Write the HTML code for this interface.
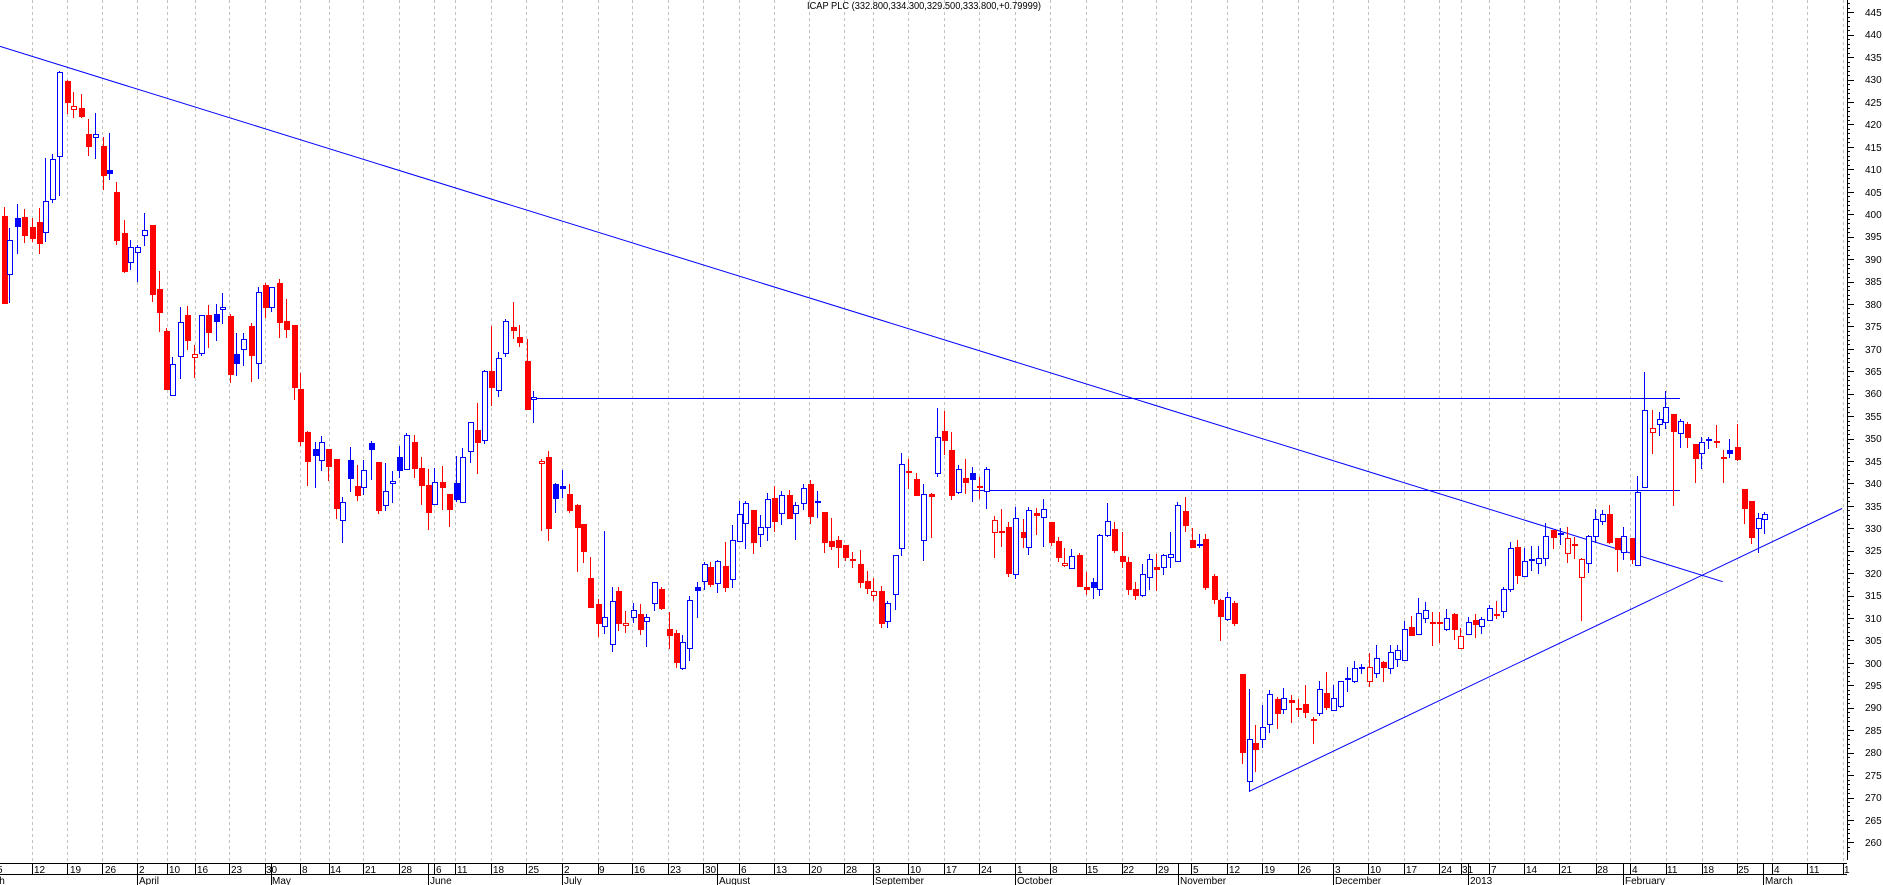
<!DOCTYPE html>
<html><head><meta charset="utf-8">
<style>
html,body{margin:0;padding:0;background:#fff;}
svg{display:block;}
text{font-family:"Liberation Sans",sans-serif;font-size:10px;fill:#000;}
</style></head>
<body>
<svg id="s" width="1883" height="885" viewBox="0 0 1883 885" xmlns="http://www.w3.org/2000/svg" shape-rendering="crispEdges">
<rect x="0" y="0" width="1883" height="885" fill="#fff"/>
<g id="grid"></g>
<text x="807" y="9" textLength="234" lengthAdjust="spacingAndGlyphs">ICAP PLC (332.800,334.300,329.500,333.800,+0.79999)</text>
<g id="lines" stroke="#0000ff" stroke-width="1" fill="none" shape-rendering="auto">
<line x1="0" y1="46.4" x2="1722.7" y2="581.7"/>
<line x1="1249.3" y1="791.3" x2="1842" y2="508.5"/>
<line x1="530" y1="398.5" x2="1680" y2="398.5"/>
<line x1="972.7" y1="490.5" x2="1680" y2="490.5"/>
</g>
<g id="candles"></g>
<g id="axis"></g>
<g id="plabels">
<text x="1865" y="16">445</text><text x="1865" y="38">440</text><text x="1865" y="61">435</text><text x="1865" y="83">430</text><text x="1865" y="106">425</text><text x="1865" y="128">420</text><text x="1865" y="151">415</text><text x="1865" y="173">410</text><text x="1865" y="196">405</text><text x="1865" y="218">400</text><text x="1865" y="240">395</text><text x="1865" y="263">390</text><text x="1865" y="285">385</text><text x="1865" y="308">380</text><text x="1865" y="330">375</text><text x="1865" y="353">370</text><text x="1865" y="375">365</text><text x="1865" y="397">360</text><text x="1865" y="420">355</text><text x="1865" y="442">350</text><text x="1865" y="465">345</text><text x="1865" y="487">340</text><text x="1865" y="510">335</text><text x="1865" y="532">330</text><text x="1865" y="554">325</text><text x="1865" y="577">320</text><text x="1865" y="599">315</text><text x="1865" y="622">310</text><text x="1865" y="644">305</text><text x="1865" y="667">300</text><text x="1865" y="689">295</text><text x="1865" y="711">290</text><text x="1865" y="734">285</text><text x="1865" y="756">280</text><text x="1865" y="779">275</text><text x="1865" y="801">270</text><text x="1865" y="824">265</text><text x="1865" y="846">260</text>
</g>
<g id="dlabels">
<text x="-3" y="873">5</text>
<text x="34" y="873">12</text><text x="70" y="873">19</text><text x="105" y="873">26</text><text x="139" y="873">2</text><text x="169" y="873">10</text><text x="197" y="873">16</text><text x="231" y="873">23</text><text x="266" y="873">30</text><text x="302" y="873">8</text><text x="330" y="873">14</text><text x="365" y="873">21</text><text x="401" y="873">28</text><text x="436" y="873">6</text><text x="457" y="873">11</text><text x="493" y="873">18</text><text x="528" y="873">25</text><text x="564" y="873">2</text><text x="599" y="873">9</text><text x="634" y="873">16</text><text x="670" y="873">23</text><text x="705" y="873">30</text><text x="741" y="873">6</text><text x="776" y="873">13</text><text x="811" y="873">20</text><text x="846" y="873">28</text><text x="875" y="873">3</text><text x="910" y="873">10</text><text x="946" y="873">17</text><text x="981" y="873">24</text><text x="1017" y="873">1</text><text x="1052" y="873">8</text><text x="1087" y="873">15</text><text x="1123" y="873">22</text><text x="1158" y="873">29</text><text x="1193" y="873">5</text><text x="1229" y="873">12</text><text x="1264" y="873">19</text><text x="1300" y="873">26</text><text x="1335" y="873">3</text><text x="1370" y="873">10</text><text x="1406" y="873">17</text><text x="1441" y="873">24</text><text x="1462" y="873">31</text><text x="1491" y="873">7</text><text x="1526" y="873">14</text><text x="1561" y="873">21</text><text x="1597" y="873">28</text><text x="1632" y="873">4</text><text x="1667" y="873">11</text><text x="1703" y="873">18</text><text x="1738" y="873">25</text><text x="1774" y="873">4</text><text x="1809" y="873">11</text><text x="1844" y="873">1</text>
<text x="-23" y="884">March</text><text x="139" y="884">April</text><text x="272" y="884">May</text><text x="430" y="884">June</text><text x="564" y="884">July</text><text x="719" y="884">August</text><text x="875" y="884">September</text><text x="1017" y="884">October</text><text x="1180" y="884">November</text><text x="1335" y="884">December</text><text x="1470" y="884">2013</text><text x="1625" y="884">February</text><text x="1765" y="884">March</text>
</g>
</svg>
<script>
var NS="http://www.w3.org/2000/svg";
function el(p,t,a){var e=document.createElementNS(NS,t);for(var k in a)e.setAttribute(k,a[k]);p.appendChild(e);return e;}
var gx=[31.7,67.3,102.3,137.3,166.7,194.7,229.3,264.7,300.3,328.7,363.3,399.3,434.3,455.3,491.3,526.3,562.3,597.7,632.3,668.3,703.3,739.3,774,809.3,844.3,873.3,908.3,944.3,979.3,1015.3,1050.3,1085.7,1121.7,1156.3,1191.3,1227.3,1262.3,1298.3,1333.3,1368.3,1404.3,1439.3,1460.7,1489,1524.3,1559.3,1595.7,1630,1665.7,1701.7,1736.7,1772.3,1807.3,1842.7];
var grid=document.getElementById('grid');
gx.forEach(function(x){var xx=Math.round(x)+0.5;
 el(grid,'line',{x1:xx,y1:0,x2:xx,y2:863,stroke:'#c0c0c0','stroke-dasharray':'3,3'});
 el(grid,'line',{x1:xx,y1:863,x2:xx,y2:874,stroke:'#000'});
});
// date box
el(grid,'line',{x1:0,y1:863.5,x2:1847,y2:863.5,stroke:'#000'});
el(grid,'line',{x1:0,y1:874.5,x2:1847,y2:874.5,stroke:'#000'});
[137.3,270.7,428,562.3,717,873.3,1015.3,1178,1333.3,1468,1623,1763].forEach(function(x){var xx=Math.round(x)+0.5;
 el(grid,'line',{x1:xx,y1:863,x2:xx,y2:885,stroke:'#000'});});
// price axis
var ax=document.getElementById('axis');
el(ax,'line',{x1:1847.5,y1:0,x2:1847.5,y2:860,stroke:'#000'});
for(var p=263;p<=447;p++){var y=Math.round(12.3+(445-p)*4.487)+0.5;var maj=(p%5==0);
 el(ax,'line',{x1:1847,y1:y,x2:maj?1854:1850,y2:y,stroke:'#000'});}
for(var p=258;p<263;p++){var y=Math.round(12.3+(445-p)*4.487)+0.5;if(y<860)el(ax,'line',{x1:1847,y1:y,x2:p%5==0?1854:1850,y2:y,stroke:'#000'});}
var segs=[
[0,50,[[12,470,760,498,758,'r'],[28,535,755,571,673,'b'],[50,462,608,505,527,'B'],[73,478,575,502,554,'r'],[95,505,572,532,563,'r'],[118,473,608,517,578,'r'],[134,325,572,454,547,'b'],[156,312,455,328,446,'b'],[176,64,434,67,319,'b'],[202,90,188,94,155,'r'],[219,126,200,169,178,'h'],[242,132,200,175,197,'r'],[265,208,314,253,287,'r'],[285,189,323,253,262,'b'],[309,262,418,288,374,'r'],[327,249,386,361,370,'B'],[348,396,582,427,569,'r'],[371,510,665,549,662,'r'],[391,570,656,592,635,'b'],[411,584,692,592,607,'b'],[432,489,585,540,556,'b'],[456,524,752,525,731,'r'],[477,663,842,718,785,'r'],[499,834,1017,843,1016,'r'],[516,921,1036,943,1036,'b'],[540,771,983,817,919,'b'],[561,768,898,796,869,'r'],[583,885,980,912,922,'h'],[603,796,914,796,908,'b'],[624,766,890,796,845,'r'],[647,762,869,792,814,'B'],[666,729,820,771,778,'b'],[690,792,995,798,971,'r'],[709,849,974,912,940,'B'],[729,849,946,868,898,'b'],[752,819,994,828,916,'r'],[774,712,983,727,940,'b'],[795,699,800,705,770,'r'],[814,711,782,712,770,'b'],[837,687,862,699,815,'r'],[858,746,861,813,836,'r'],[882,825,1048,826,1010,'r'],[900,968,1185,1018,1172,'r'],[921,1143,1304,1147,1232,'r'],[944,1176,1312,1197,1214,'B']]],
[300,280,[[64,467,570,487,541,'b'],[84,508,600,507,557,'r'],[107,537,713,537,683,'r'],[126,651,785,666,721,'b'],[150,501,632,541,593,'B'],[172,556,661,618,644,'r'],[189,540,641,571,622,'b'],[212,484,598,489,506,'B'],[234,546,698,546,689,'r'],[256,549,691,633,676,'b'],[275,572,666,603,610,'b'],[297,498,590,531,569,'B'],[317,460,568,466,568,'b'],[342,465,590,487,563,'r'],[364,531,671,564,614,'r'],[383,567,746,615,695,'r'],[402,564,673,607,673,'b'],[425,558,686,606,620,'r'],[448,642,737,642,686,'r'],[467,527,664,609,656,'B'],[487,504,667,532,666,'b'],[509,427,545,427,514,'b'],[532,368,578,450,485,'r'],[553,270,490,273,481,'b'],[573,137,374,273,320,'r'],[593,216,347,235,331,'b'],[615,118,227,124,220,'b'],[640,66,173,142,149,'r'],[658,134,197,171,185,'r'],[680,177,388,243,388,'r'],[698,333,425,351,358,'b'],[723,537,749,544,550,'h'],[745,513,779,531,743,'r'],[765,608,697,613,653,'B'],[787,570,652,618,623,'B'],[807,611,697,642,691,'r'],[830,672,872,675,742,'r'],[849,731,845,732,812,'r'],[870,830,980,894,980,'r'],[893,957,1067,972,1030,'r'],[911,752,1060,1012,1038,'b'],[935,921,1114,962,1092,'b']]],
[600,360,[[55,680,810,692,790,'r'],[75,752,815,789,795,'h'],[98,729,785,751,771,'b'],[121,731,821,762,808,'r'],[138,761,857,771,784,'b'],[161,665,751,667,730,'b'],[183,680,746,687,743,'r'],[207,755,863,807,826,'r'],[228,810,922,820,907,'r'],[246,825,927,847,925,'b'],[266,708,899,720,864,'b'],[290,665,770,682,689,'B'],[311,605,686,612,664,'b'],[331,605,677,621,673,'r'],[351,601,695,604,670,'b'],[375,545,692,619,680,'r'],[396,494,680,541,658,'b'],[418,423,542,463,542,'b'],[436,423,563,430,490,'b'],[459,449,578,450,545,'r'],[480,464,557,502,523,'b'],[502,399,539,418,502,'b'],[521,378,512,414,482,'r'],[543,393,491,406,460,'b'],[567,390,473,405,473,'r'],[585,426,537,436,460,'b'],[608,371,446,383,430,'b'],[630,360,489,372,467,'r'],[651,393,470,424,426,'b'],[671,456,575,456,545,'r'],[694,473,566,543,557,'r'],[714,528,620,540,560,'r'],[735,554,600,555,590,'r'],[756,575,620,597,599,'r'],[779,570,680,612,665,'r'],[802,633,700,663,684,'r'],[819,654,719,693,706,'h'],[843,678,800,693,788,'r'],[861,723,800,730,784,'b'],[884,585,748,586,703,'b'],[903,279,584,313,565,'b'],[925,297,383,333,335,'r']]],
[910,390,[[17,250,314,267,314,'r'],[38,283,510,313,451,'b'],[62,310,440,313,317,'r'],[80,54,257,142,250,'b'],[101,63,191,123,149,'r'],[124,126,328,181,314,'r'],[145,225,310,238,307,'b'],[164,207,308,264,275,'r'],[187,231,332,250,268,'B'],[208,260,323,288,291,'r'],[229,232,353,238,304,'b'],[252,378,500,391,427,'h'],[272,357,468,423,426,'r'],[294,395,557,411,548,'r'],[315,352,563,385,553,'b'],[338,388,471,427,440,'r'],[354,352,493,359,472,'b'],[378,355,431,370,374,'r'],[399,327,467,358,382,'b'],[423,397,465,397,455,'r'],[445,440,513,454,500,'r'],[462,474,527,519,526,'h'],[483,478,535,499,535,'b'],[507,490,587,495,587,'r'],[528,545,611,592,596,'r'],[549,563,623,576,590,'B'],[567,431,616,434,598,'b'],[590,340,437,394,434,'b'],[612,395,486,418,479,'r'],[635,426,531,498,512,'r'],[655,502,612,516,596,'r'],[675,576,628,598,614,'r'],[696,522,617,553,616,'b'],[718,492,596,506,562,'b'],[739,492,600,532,536,'r'],[760,491,551,496,532,'b'],[780,427,530,492,502,'b'],[802,337,514,346,514,'b'],[826,320,422,363,404,'r'],[846,414,472,451,470,'r'],[866,432,472,462,464,'b'],[886,432,596,448,590,'r'],[912,551,638,558,628,'r'],[930,627,751,630,677,'r'],[951,606,690,622,688,'b']]],
[1220,480,[[41,362,435,370,430,'r'],[65,582,848,582,815,'r'],[86,627,934,778,904,'b'],[105,735,872,790,808,'r'],[126,675,800,740,777,'b'],[147,630,757,643,733,'b'],[172,650,745,657,700,'r'],[189,625,700,655,688,'b'],[212,645,727,660,667,'r'],[233,657,707,684,686,'r'],[255,615,710,672,697,'r'],[278,710,788,716,718,'r'],[296,603,704,628,700,'b'],[318,576,688,639,680,'r'],[339,615,689,655,690,'b'],[361,602,680,604,677,'b'],[381,560,632,594,597,'b'],[402,543,605,565,604,'b'],[422,552,580,560,565,'b'],[446,520,617,561,604,'h'],[467,494,590,535,580,'b'],[488,544,602,546,562,'r'],[509,494,578,517,565,'b'],[530,495,557,511,538,'b'],[553,422,541,448,541,'b'],[573,408,466,440,466,'r'],[593,353,463,400,463,'b'],[615,367,427,390,415,'b'],[636,396,494,426,430,'r'],[658,396,485,426,430,'r'],[677,387,449,414,448,'b'],[702,400,478,402,448,'r'],[721,445,505,469,505,'h'],[744,411,463,427,463,'b'],[765,403,470,420,431,'r'],[783,411,458,418,439,'b'],[806,375,421,385,420,'b'],[827,363,415,402,404,'r'],[850,320,412,327,394,'b'],[869,186,332,205,326,'b'],[890,180,308,201,284,'r'],[911,205,288,243,289,'b'],[933,198,270,236,241,'b'],[953,197,278,234,250,'b']]],
[1520,320,[[75,609,735,649,715,'b'],[98,630,683,630,652,'r'],[119,625,672,640,642,'b'],[142,620,725,655,700,'h'],[161,652,713,672,674,'r'],[183,714,900,718,772,'h'],[204,645,755,647,730,'b'],[226,568,665,598,649,'b'],[245,570,613,583,602,'b'],[267,556,670,582,665,'r'],[290,655,752,655,688,'r'],[309,622,718,647,696,'b'],[335,653,730,655,718,'r'],[351,468,736,517,736,'b'],[372,156,502,271,502,'b'],[395,270,398,325,336,'h'],[416,277,345,298,313,'b'],[435,212,323,260,306,'b'],[458,282,556,282,334,'r'],[479,298,380,304,338,'b'],[502,305,380,313,350,'r'],[524,372,485,372,413,'r'],[543,352,443,367,399,'b'],[565,351,385,356,358,'b'],[588,316,380,364,366,'r'],[610,390,485,410,412,'r'],[627,357,410,390,400,'B'],[650,313,420,381,416,'r'],[672,507,608,507,563,'r'],[692,543,670,543,650,'r'],[715,580,695,595,625,'b'],[733,577,640,583,598,'b']]]
];
var cg=document.getElementById('candles');
segs.forEach(function(s){var ox=s[0],oy=s[1];s[2].forEach(function(c){
 var xc=Math.round(ox+c[0]/3);
 var hi=Math.round(oy+c[1]/3),lo=Math.round(oy+c[2]/3),bt=Math.round(oy+c[3]/3),bb=Math.round(oy+c[4]/3);
 var t=c[5];var col=(t=='r'||t=='h')?'#ff0000':'#0000ff';
 el(cg,'line',{x1:xc+0.5,y1:hi,x2:xc+0.5,y2:lo+1,stroke:col});
 var h=Math.max(bb-bt,1);
 if(t=='r'||t=='B'){el(cg,'rect',{x:xc-2,y:bt,width:6,height:h+1,fill:col});}
 else{ if(h<2){el(cg,'rect',{x:xc-2,y:bt,width:6,height:2,fill:col});}
  else el(cg,'rect',{x:xc-1.5,y:bt+0.5,width:5,height:h,fill:'#fff',stroke:col});}
});});
</script>
</body></html>
